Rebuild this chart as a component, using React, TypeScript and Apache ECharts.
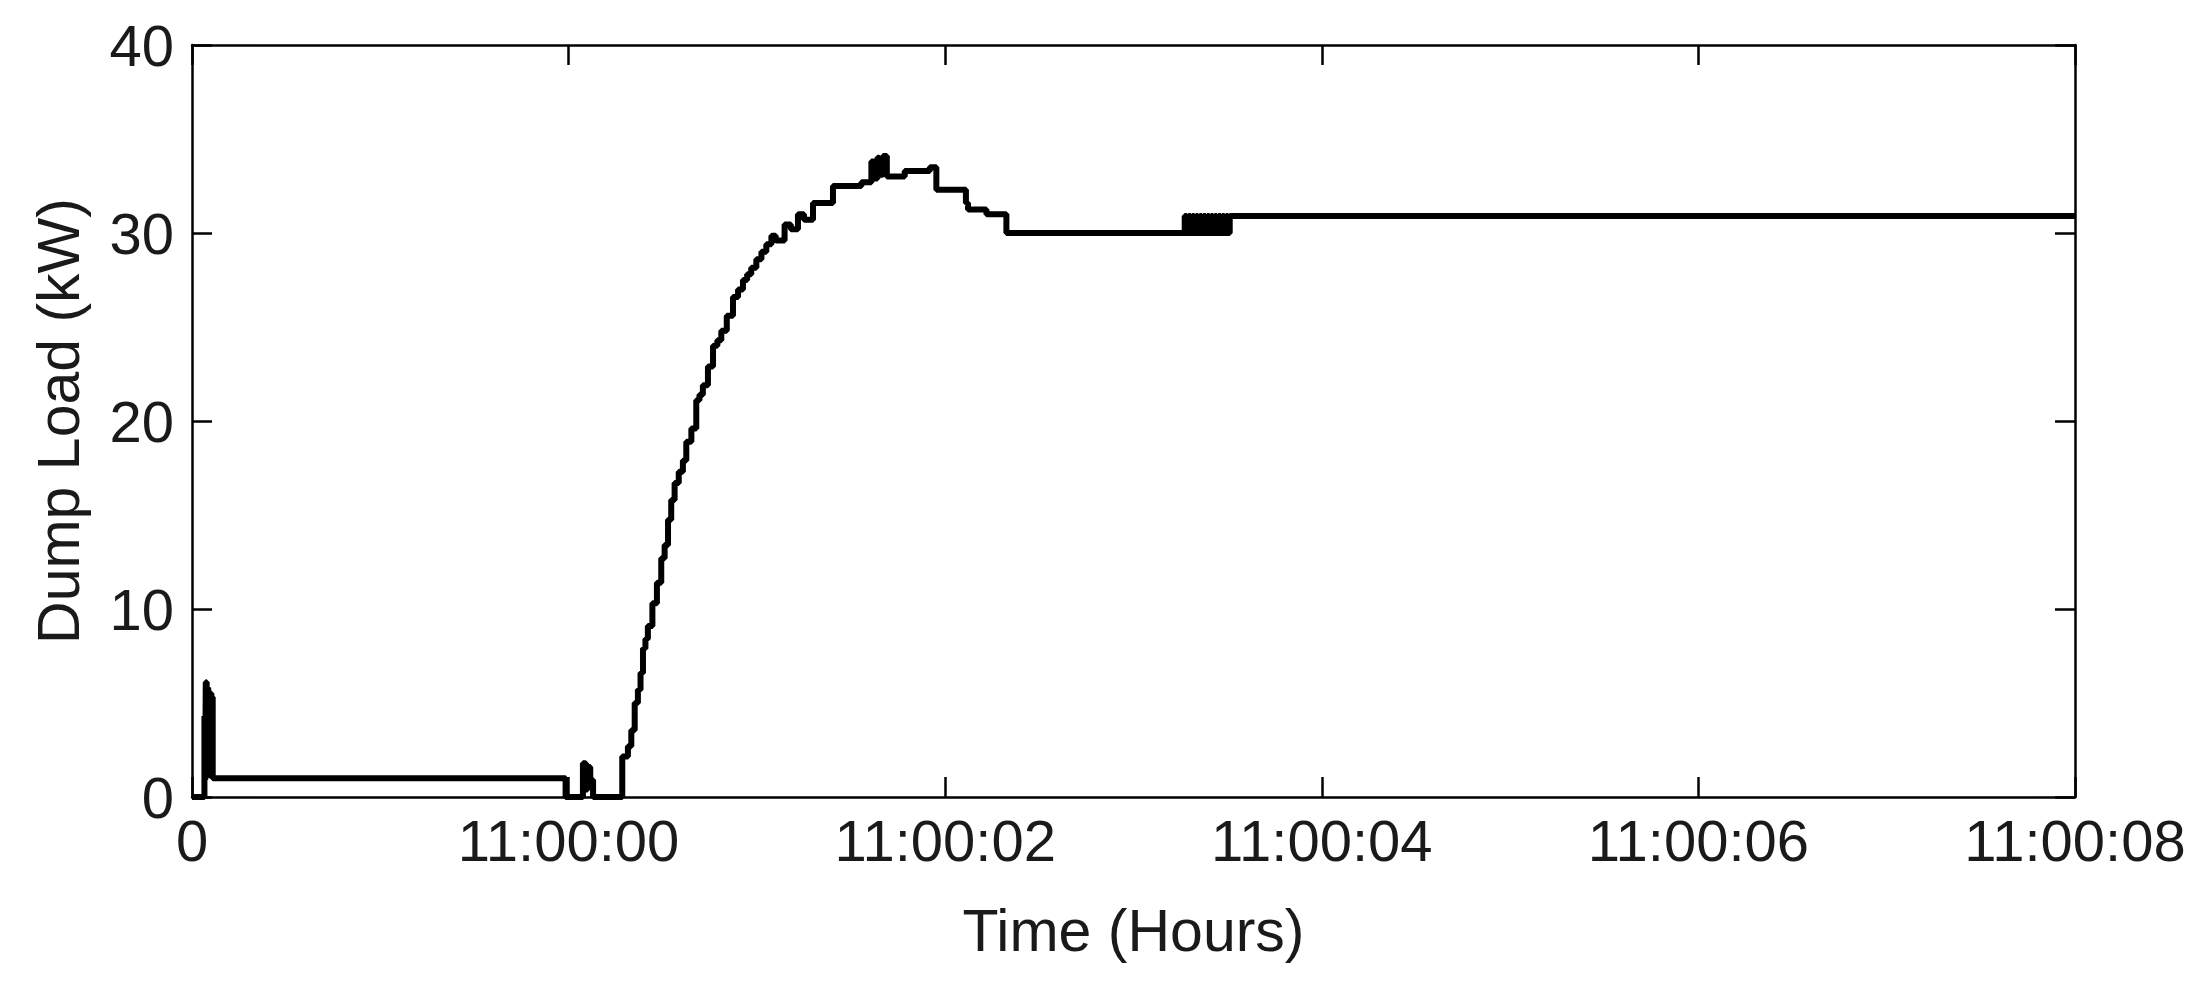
import React, { useEffect, useRef } from "react";
import * as echarts from "echarts";

// x positions are in seconds from the left edge of the axis
const xTickValues = [0, 2, 4, 6, 8, 10];
const xTickLabels = ["0", "11:00:00", "11:00:02", "11:00:04", "11:00:06", "11:00:08"];
const yTickValues = [0, 10, 20, 30, 40];

const timeSec = [
  0, 0.066, 0.07, 0.073, 0.078, 0.081, 0.086, 0.089, 0.094, 0.097, 0.103, 0.106, 0.11,
  1.984, 2.076, 2.092, 2.1, 2.115, 2.13,
  2.285, 2.315, 2.333, 2.351, 2.368, 2.382, 2.395, 2.408, 2.421, 2.445, 2.469, 2.492, 2.51,
  2.528, 2.545, 2.563, 2.585, 2.607, 2.625, 2.652, 2.678, 2.695, 2.713, 2.74, 2.767, 2.79,
  2.811, 2.84, 2.873, 2.9, 2.926, 2.948, 2.97, 2.997, 3.024, 3.05, 3.077, 3.1,
  3.147, 3.18, 3.218, 3.25, 3.298, 3.404, 3.555, 3.608, 3.62, 3.64, 3.65, 3.67, 3.69, 3.785,
  3.918, 3.953, 4.11, 4.121, 4.219, 4.325,
  5.272, 5.282, 5.292, 5.302, 5.312, 5.322, 5.332, 5.342, 5.352, 5.362, 5.372, 5.382, 5.392,
  5.402, 5.412, 5.422, 5.432, 5.442, 5.452, 5.462, 5.472, 5.482, 5.492, 5.502, 5.511,
  10,
];
const dumpLoadKW = [
  0, 4.3, 0.9, 6.1, 1.0, 5.8, 1.0, 5.6, 1.0, 5.5, 1.0, 5.3, 1.0,
  0, 1.8, 0.4, 1.6, 0.9, 0,
  2.15, 2.7, 3.55, 5.0, 5.7, 6.6, 7.9, 8.4, 9.1, 10.3, 11.4, 12.7, 13.4,
  14.75, 15.8, 16.7, 17.3, 17.9, 18.9, 19.6, 21.1, 21.4, 21.9, 22.9, 24.0, 24.3,
  24.8, 25.6, 26.6, 27.0, 27.5, 27.8, 28.15, 28.6, 29.0, 29.4, 29.85, 29.6,
  30.45, 30.2, 31.0, 30.7, 31.6, 32.5, 32.7, 33.8, 32.9, 34.0, 33.1, 34.1, 33.0, 33.3,
  33.5, 32.3, 31.6, 31.25, 31.0, 30.0,
  30.9, 30.0, 30.9, 30.0, 30.9, 30.0, 30.9, 30.0, 30.9, 30.0, 30.9, 30.0, 30.9,
  30.0, 30.9, 30.0, 30.9, 30.0, 30.9, 30.0, 30.9, 30.0, 30.9, 30.0, 30.9,
  30.9,
];

const FONT = "'Liberation Sans', Arial, sans-serif";
const TEXT_COLOR = "#1a1a1a";

export default function App() {
  const ref = useRef<HTMLDivElement>(null);

  useEffect(() => {
    if (!ref.current) return;
    const chart = echarts.init(ref.current, undefined, { renderer: "svg" });
    const data = timeSec.map((t, i) => [t, dumpLoadKW[i]]);
    const axisLine = { show: true, onZero: false, lineStyle: { color: "#000", width: 2.5 } };
    const tick = { show: true, inside: true, length: 20, lineStyle: { color: "#000", width: 2.5 } };
    const labelStyle = { color: TEXT_COLOR, fontFamily: FONT, fontSize: 58 };

    chart.setOption({
      animation: false,
      backgroundColor: "#fff",
      grid: { left: 192, right: 129, top: 45, bottom: 193, containLabel: false },
      xAxis: [
        {
          type: "value",
          min: 0,
          max: 10,
          interval: 2,
          position: "bottom",
          axisLine,
          axisTick: tick,
          splitLine: { show: false },
          axisLabel: {
            ...labelStyle,
            margin: 14,
            showMinLabel: true,
            showMaxLabel: true,
            formatter: (v: number) => {
              const i = xTickValues.indexOf(Math.round(v * 1000) / 1000);
              return i >= 0 ? xTickLabels[i] : "";
            },
          },
          name: "Time (Hours)",
          nameLocation: "middle",
          nameGap: 104,
          nameTextStyle: { color: TEXT_COLOR, fontFamily: FONT, fontSize: 59 },
        },
        {
          type: "value",
          min: 0,
          max: 10,
          interval: 2,
          position: "top",
          axisLine,
          axisTick: tick,
          axisLabel: { show: false },
          splitLine: { show: false },
        },
      ],
      yAxis: [
        {
          type: "value",
          min: 0,
          max: 40,
          interval: 10,
          position: "left",
          axisLine,
          axisTick: tick,
          splitLine: { show: false },
          axisLabel: {
            ...labelStyle,
            margin: 18,
            formatter: (v: number) => (yTickValues.includes(v) ? String(v) : ""),
          },
          name: "Dump Load (kW)",
          nameLocation: "middle",
          nameGap: 104,
          nameRotate: 90,
          nameTextStyle: { color: TEXT_COLOR, fontFamily: FONT, fontSize: 59 },
        },
        {
          type: "value",
          min: 0,
          max: 40,
          interval: 10,
          position: "right",
          axisLine,
          axisTick: tick,
          axisLabel: { show: false },
          splitLine: { show: false },
        },
      ],
      series: [
        {
          type: "line",
          xAxisIndex: 0,
          yAxisIndex: 0,
          step: "end",
          showSymbol: false,
          symbol: "none",
          data,
          lineStyle: { color: "#000", width: 6 },
          clip: true,
        },
      ],
    });
    return () => chart.dispose();
  }, []);

  return (
    <div
      ref={ref}
      style={{ position: "absolute", left: 0, top: 0, width: 2204, height: 990, background: "#fff" }}
    />
  );
}
